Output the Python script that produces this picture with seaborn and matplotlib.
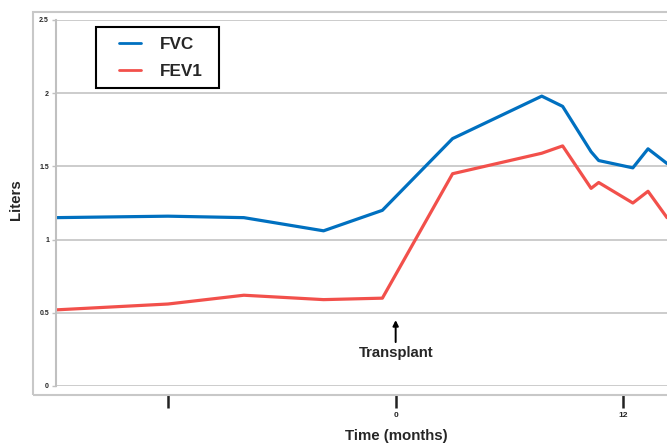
import matplotlib
matplotlib.use("Agg")
import matplotlib.pyplot as plt
import matplotlib.transforms as mtransforms
import seaborn as sns
import pandas as pd
from matplotlib.patches import Rectangle
from matplotlib.lines import Line2D

months = [-17.9, -12, -8, -3.8, -0.7, 3, 7.7, 8.8, 10.3, 10.7, 12.5, 13.3, 14.3]
fvc = [1.15, 1.16, 1.15, 1.06, 1.20, 1.69, 1.98, 1.91, 1.60, 1.54, 1.49, 1.62, 1.52]
fev1 = [0.52, 0.56, 0.62, 0.59, 0.60, 1.45, 1.59, 1.64, 1.35, 1.39, 1.25, 1.33, 1.15]
series_names = ["FVC", "FEV1"]
xtick_pos = [-12, 0, 12]
xtick_labels = ["", "0", "12"]
ytick_pos = [0, 0.5, 1, 1.5, 2, 2.5]
ytick_labels = ["0", "0.5", "1", "1.5", "2", "2.5"]

df = pd.concat([
    pd.DataFrame({"Time": months, "Liters": fvc, "Series": series_names[0]}),
    pd.DataFrame({"Time": months, "Liters": fev1, "Series": series_names[1]}),
])

sns.set_theme(style="white")
plt.rcParams['font.family'] = ['Liberation Sans', 'DejaVu Sans']

W, H = 667, 443
fig = plt.figure(figsize=(W / 100, H / 100), dpi=100)

# outer frame
fig.patches.append(Rectangle((33 / W, (H - 395) / H), (W - 33 + 5) / W, (395 - 12) / H,
                             transform=fig.transFigure, fill=False,
                             edgecolor="#c8c8c8", linewidth=1.5, zorder=0))

ax = fig.add_axes([56 / W, (H - 386) / H, (W - 56) / W, (386 - 20) / H])
ax.set_facecolor("none")
palette = {"FVC": "#0070C0", "FEV1": "#F2504B"}
sns.lineplot(data=df, x="Time", y="Liters", hue="Series", palette=palette,
             linewidth=2.3, ax=ax, legend=False, sort=False)

ax.set_xlim(-17.9, 14.3)
ax.set_ylim(0, 2.5)
ax.set_yticks(ytick_pos)
ax.set_yticklabels(ytick_labels, fontsize=5, fontweight="bold")
ax.yaxis.grid(True, color="#c8c8c8", linewidth=1.3)
ax.xaxis.grid(False)
for s in ["top", "right"]:
    ax.spines[s].set_visible(False)
ax.spines["left"].set_color("#c0c0c0")
ax.spines["left"].set_linewidth(1.5)
ax.spines["bottom"].set_visible(False)
ax.tick_params(axis="y", length=3, width=1, color="#c0c0c0", pad=2, direction="out", left=True)

ax.set_xticks(xtick_pos)
ax.set_xticklabels(xtick_labels, fontsize=6, fontweight="bold")
ax.tick_params(axis="x", length=9, width=1.8, color="#222222", direction="out",
               pad=3, bottom=True)
offset = mtransforms.ScaledTranslation(0, -9 / 100, fig.dpi_scale_trans)
for t in ax.xaxis.get_major_ticks():
    t.tick1line.set_transform(t.tick1line.get_transform() + offset)
    t.label1.set_transform(t.label1.get_transform() + offset)

ax.set_xlabel("")
ax.set_ylabel("")
fig.text(396 / W, (H - 436) / H, "Time (months)", ha="center", va="center",
         fontsize=10.8, fontweight="bold")
fig.text(16 / W, (H - 200) / H, "Liters", ha="center", va="center", rotation=90,
         fontsize=10.8, fontweight="bold")

# Transplant annotation
fig.text(396 / W, (H - 353) / H, "Transplant", ha="center", va="center",
         fontsize=10.7, fontweight="bold")
ax.annotate("", xy=(0, 0.45), xytext=(0, 0.30),
            arrowprops=dict(arrowstyle="-|>", color="black", lw=1.4,
                            shrinkA=0, shrinkB=0, mutation_scale=8))

# legend
fig.patches.append(Rectangle((96 / W, (H - 88) / H), (219 - 96) / W, (88 - 27) / H,
                             transform=fig.transFigure, fill=True, facecolor="white",
                             edgecolor="black", linewidth=1.5, zorder=5))
handles = [Line2D([0], [0], color=palette[n], lw=2.0) for n in series_names]
leg = fig.legend(handles, series_names, loc="center left",
                 bbox_to_anchor=(119 / W, (H - 58) / H), frameon=False,
                 prop={"weight": "bold", "size": 12.3}, handlelength=1.27,
                 handletextpad=1.1, borderpad=0, labelspacing=0.68, borderaxespad=0)
leg.set_zorder(6)

fig.savefig("out.png", dpi=100)
